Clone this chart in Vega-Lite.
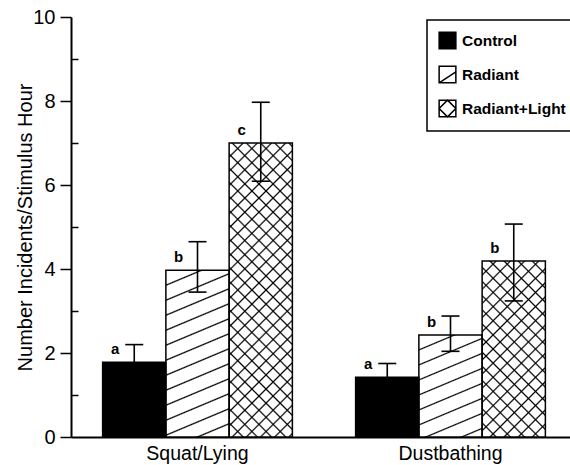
{
  "$schema": "https://vega.github.io/schema/vega-lite/v6.json",
  "width": 499,
  "height": 420,
  "autosize": {"type": "none"},
  "padding": {"left": 71, "top": 17, "right": 0, "bottom": 28},
  "background": "white",
  "config": {
    "font": "Liberation Sans",
    "view": {"stroke": null},
    "axis": {"grid": false, "domainColor": "black", "tickColor": "black", "labelColor": "black", "titleColor": "black"}
  },
  "data": {
    "values": [
      {"behavior": "Squat/Lying", "treatment": "Control", "mean": 1.78, "lo": 1.36, "hi": 2.2, "sig": "a"},
      {"behavior": "Squat/Lying", "treatment": "Radiant", "mean": 3.97, "lo": 3.45, "hi": 4.65, "sig": "b"},
      {"behavior": "Squat/Lying", "treatment": "Radiant+Light", "mean": 7.0, "lo": 6.09, "hi": 7.97, "sig": "c"},
      {"behavior": "Dustbathing", "treatment": "Control", "mean": 1.42, "lo": 1.09, "hi": 1.75, "sig": "a"},
      {"behavior": "Dustbathing", "treatment": "Radiant", "mean": 2.43, "lo": 2.04, "hi": 2.88, "sig": "b"},
      {"behavior": "Dustbathing", "treatment": "Radiant+Light", "mean": 4.19, "lo": 3.24, "hi": 5.07, "sig": "b"}
    ]
  },
  "encoding": {
    "x": {"field": "behavior", "type": "nominal", "sort": ["Squat/Lying", "Dustbathing"],
      "scale": {"range": [0, 506], "paddingInner": 0, "paddingOuter": 0},
      "axis": {"title": null, "labelAngle": 0, "ticks": false, "tickSize": 0, "labelPadding": 7, "labelFontSize": 19.5, "domainWidth": 2}},
    "xOffset": {"field": "treatment", "type": "nominal",
      "scale": {"domain": ["Control", "Radiant", "Radiant+Light"], "paddingInner": 0, "paddingOuter": 0.5}}
  },
  "layer": [
    {
      "mark": {"type": "bar"},
      "encoding": {
        "y": {"field": "mean", "type": "quantitative", "scale": {"domain": [0, 10], "nice": false},
          "axis": {"orient": "left", "values": [0, 0.5, 1, 1.5, 2, 2.5, 3, 3.5, 4, 4.5, 5, 5.5, 6, 6.5, 7, 7.5, 8, 8.5, 9, 9.5, 10],
            "labelExpr": "datum.value % 2 === 0 ? datum.label : ''",
            "tickSize": {"condition": {"test": "datum.value % 2 === 0", "value": 11}, "value": -7},
            "tickWidth": 1.5, "domainWidth": 2, "labelFontSize": 20, "labelPadding": 5,
            "title": "Number Incidents/Stimulus Hour", "titleFontSize": 20, "titleFontWeight": "normal", "titleX": -36, "titleY": 210}},
        "fill": {"field": "treatment", "type": "nominal",
          "scale": {"domain": ["Control", "Radiant", "Radiant+Light"], "range": ["black", "white", "white"]},
          "legend": {"orient": "none", "legendX": 356, "legendY": 3, "title": null, "padding": 11, "strokeColor": "black", "fillColor": "white",
            "symbolSize": 280, "symbolType": "square", "rowPadding": 11, "labelOffset": 5, "labelFontSize": 15.5, "labelFontWeight": "bold", "labelColor": "black",
            "symbolStrokeColor": "black", "symbolStrokeWidth": 1.5,
            "encode": {
              "legend": {"update": {"strokeWidth": {"value": 1.5}}},
              "symbols": {"update": {
                "shape": {"signal": "datum.value === 'Radiant' ? 'M-1,-1H1V1H-1Z M-1,1L1,-0.3' : (datum.value === 'Radiant+Light' ? 'M-1,-1H1V1H-1Z M0,-1L1,0L0,1L-1,0Z' : 'square')"},
                "stroke": {"value": "black"},
                "strokeWidth": {"value": 1.5}
              }}
            }}
        }
      }
    },
    {
      "transform": [{"filter": "datum.behavior === 'Squat/Lying' && datum.treatment === 'Radiant'"}],
      "mark": {"type": "bar", "fill": {"gradient": "linear", "x1": 0, "y1": 0, "x2": 0.1801, "y2": 1.1306, "stops": [
        {"offset": 0.0706, "color": "rgba(0,0,0,0)"}, {"offset": 0.0776, "color": "black"}, {"offset": 0.0846, "color": "rgba(0,0,0,0)"},
        {"offset": 0.1482, "color": "rgba(0,0,0,0)"}, {"offset": 0.1552, "color": "black"}, {"offset": 0.1622, "color": "rgba(0,0,0,0)"},
        {"offset": 0.2258, "color": "rgba(0,0,0,0)"}, {"offset": 0.2328, "color": "black"}, {"offset": 0.2398, "color": "rgba(0,0,0,0)"},
        {"offset": 0.3034, "color": "rgba(0,0,0,0)"}, {"offset": 0.3104, "color": "black"}, {"offset": 0.3174, "color": "rgba(0,0,0,0)"},
        {"offset": 0.381, "color": "rgba(0,0,0,0)"}, {"offset": 0.388, "color": "black"}, {"offset": 0.395, "color": "rgba(0,0,0,0)"},
        {"offset": 0.4586, "color": "rgba(0,0,0,0)"}, {"offset": 0.4656, "color": "black"}, {"offset": 0.4726, "color": "rgba(0,0,0,0)"},
        {"offset": 0.5362, "color": "rgba(0,0,0,0)"}, {"offset": 0.5432, "color": "black"}, {"offset": 0.5502, "color": "rgba(0,0,0,0)"},
        {"offset": 0.6138, "color": "rgba(0,0,0,0)"}, {"offset": 0.6208, "color": "black"}, {"offset": 0.6278, "color": "rgba(0,0,0,0)"},
        {"offset": 0.6914, "color": "rgba(0,0,0,0)"}, {"offset": 0.6984, "color": "black"}, {"offset": 0.7054, "color": "rgba(0,0,0,0)"},
        {"offset": 0.769, "color": "rgba(0,0,0,0)"}, {"offset": 0.776, "color": "black"}, {"offset": 0.783, "color": "rgba(0,0,0,0)"},
        {"offset": 0.8466, "color": "rgba(0,0,0,0)"}, {"offset": 0.8536, "color": "black"}, {"offset": 0.8606, "color": "rgba(0,0,0,0)"},
        {"offset": 0.9242, "color": "rgba(0,0,0,0)"}, {"offset": 0.9312, "color": "black"}, {"offset": 0.9382, "color": "rgba(0,0,0,0)"}
      ]}},
      "encoding": {"y": {"field": "mean", "type": "quantitative"}}
    },
    {
      "transform": [{"filter": "datum.behavior === 'Dustbathing' && datum.treatment === 'Radiant'"}],
      "mark": {"type": "bar", "fill": {"gradient": "linear", "x1": 0, "y1": 0, "x2": 0.3072, "y2": 1.1803, "stops": [
        {"offset": 0.1066, "color": "rgba(0,0,0,0)"}, {"offset": 0.1166, "color": "black"}, {"offset": 0.1266, "color": "rgba(0,0,0,0)"},
        {"offset": 0.2232, "color": "rgba(0,0,0,0)"}, {"offset": 0.2332, "color": "black"}, {"offset": 0.2432, "color": "rgba(0,0,0,0)"},
        {"offset": 0.3399, "color": "rgba(0,0,0,0)"}, {"offset": 0.3499, "color": "black"}, {"offset": 0.3599, "color": "rgba(0,0,0,0)"},
        {"offset": 0.4565, "color": "rgba(0,0,0,0)"}, {"offset": 0.4665, "color": "black"}, {"offset": 0.4765, "color": "rgba(0,0,0,0)"},
        {"offset": 0.5731, "color": "rgba(0,0,0,0)"}, {"offset": 0.5831, "color": "black"}, {"offset": 0.5931, "color": "rgba(0,0,0,0)"},
        {"offset": 0.6897, "color": "rgba(0,0,0,0)"}, {"offset": 0.6997, "color": "black"}, {"offset": 0.7097, "color": "rgba(0,0,0,0)"},
        {"offset": 0.8063, "color": "rgba(0,0,0,0)"}, {"offset": 0.8163, "color": "black"}, {"offset": 0.8263, "color": "rgba(0,0,0,0)"},
        {"offset": 0.923, "color": "rgba(0,0,0,0)"}, {"offset": 0.933, "color": "black"}, {"offset": 0.943, "color": "rgba(0,0,0,0)"}
      ]}},
      "encoding": {"y": {"field": "mean", "type": "quantitative"}}
    },
    {
      "transform": [{"filter": "datum.behavior === 'Squat/Lying' && datum.treatment === 'Radiant+Light'"}],
      "mark": {"type": "bar", "fill": {"gradient": "linear", "x1": 0, "y1": 0, "x2": 0.2499, "y2": 1.1614, "stops": [
        {"offset": 0.0348, "color": "rgba(0,0,0,0)"}, {"offset": 0.0396, "color": "black"}, {"offset": 0.0444, "color": "rgba(0,0,0,0)"},
        {"offset": 0.0744, "color": "rgba(0,0,0,0)"}, {"offset": 0.0792, "color": "black"}, {"offset": 0.084, "color": "rgba(0,0,0,0)"},
        {"offset": 0.114, "color": "rgba(0,0,0,0)"}, {"offset": 0.1188, "color": "black"}, {"offset": 0.1236, "color": "rgba(0,0,0,0)"},
        {"offset": 0.1536, "color": "rgba(0,0,0,0)"}, {"offset": 0.1584, "color": "black"}, {"offset": 0.1632, "color": "rgba(0,0,0,0)"},
        {"offset": 0.1932, "color": "rgba(0,0,0,0)"}, {"offset": 0.198, "color": "black"}, {"offset": 0.2028, "color": "rgba(0,0,0,0)"},
        {"offset": 0.2328, "color": "rgba(0,0,0,0)"}, {"offset": 0.2376, "color": "black"}, {"offset": 0.2424, "color": "rgba(0,0,0,0)"},
        {"offset": 0.2724, "color": "rgba(0,0,0,0)"}, {"offset": 0.2772, "color": "black"}, {"offset": 0.282, "color": "rgba(0,0,0,0)"},
        {"offset": 0.312, "color": "rgba(0,0,0,0)"}, {"offset": 0.3168, "color": "black"}, {"offset": 0.3216, "color": "rgba(0,0,0,0)"},
        {"offset": 0.3516, "color": "rgba(0,0,0,0)"}, {"offset": 0.3564, "color": "black"}, {"offset": 0.3612, "color": "rgba(0,0,0,0)"},
        {"offset": 0.3912, "color": "rgba(0,0,0,0)"}, {"offset": 0.396, "color": "black"}, {"offset": 0.4008, "color": "rgba(0,0,0,0)"},
        {"offset": 0.4308, "color": "rgba(0,0,0,0)"}, {"offset": 0.4356, "color": "black"}, {"offset": 0.4404, "color": "rgba(0,0,0,0)"},
        {"offset": 0.4704, "color": "rgba(0,0,0,0)"}, {"offset": 0.4752, "color": "black"}, {"offset": 0.48, "color": "rgba(0,0,0,0)"},
        {"offset": 0.51, "color": "rgba(0,0,0,0)"}, {"offset": 0.5148, "color": "black"}, {"offset": 0.5196, "color": "rgba(0,0,0,0)"},
        {"offset": 0.5496, "color": "rgba(0,0,0,0)"}, {"offset": 0.5544, "color": "black"}, {"offset": 0.5592, "color": "rgba(0,0,0,0)"},
        {"offset": 0.5892, "color": "rgba(0,0,0,0)"}, {"offset": 0.594, "color": "black"}, {"offset": 0.5988, "color": "rgba(0,0,0,0)"},
        {"offset": 0.6288, "color": "rgba(0,0,0,0)"}, {"offset": 0.6336, "color": "black"}, {"offset": 0.6384, "color": "rgba(0,0,0,0)"},
        {"offset": 0.6684, "color": "rgba(0,0,0,0)"}, {"offset": 0.6732, "color": "black"}, {"offset": 0.678, "color": "rgba(0,0,0,0)"},
        {"offset": 0.708, "color": "rgba(0,0,0,0)"}, {"offset": 0.7128, "color": "black"}, {"offset": 0.7176, "color": "rgba(0,0,0,0)"},
        {"offset": 0.7476, "color": "rgba(0,0,0,0)"}, {"offset": 0.7524, "color": "black"}, {"offset": 0.7572, "color": "rgba(0,0,0,0)"},
        {"offset": 0.7872, "color": "rgba(0,0,0,0)"}, {"offset": 0.792, "color": "black"}, {"offset": 0.7968, "color": "rgba(0,0,0,0)"},
        {"offset": 0.8268, "color": "rgba(0,0,0,0)"}, {"offset": 0.8316, "color": "black"}, {"offset": 0.8364, "color": "rgba(0,0,0,0)"},
        {"offset": 0.8664, "color": "rgba(0,0,0,0)"}, {"offset": 0.8712, "color": "black"}, {"offset": 0.876, "color": "rgba(0,0,0,0)"},
        {"offset": 0.906, "color": "rgba(0,0,0,0)"}, {"offset": 0.9108, "color": "black"}, {"offset": 0.9156, "color": "rgba(0,0,0,0)"},
        {"offset": 0.9456, "color": "rgba(0,0,0,0)"}, {"offset": 0.9504, "color": "black"}, {"offset": 0.9552, "color": "rgba(0,0,0,0)"},
        {"offset": 0.9852, "color": "rgba(0,0,0,0)"}, {"offset": 0.99, "color": "black"}, {"offset": 0.9948, "color": "rgba(0,0,0,0)"}
      ]}},
      "encoding": {"y": {"field": "mean", "type": "quantitative"}}
    },
    {
      "transform": [{"filter": "datum.behavior === 'Squat/Lying' && datum.treatment === 'Radiant+Light'"}],
      "mark": {"type": "bar", "fill": {"gradient": "linear", "x1": 0, "y1": 1, "x2": 0.2499, "y2": -0.1614, "stops": [
        {"offset": 0.0348, "color": "rgba(0,0,0,0)"}, {"offset": 0.0396, "color": "black"}, {"offset": 0.0444, "color": "rgba(0,0,0,0)"},
        {"offset": 0.0744, "color": "rgba(0,0,0,0)"}, {"offset": 0.0792, "color": "black"}, {"offset": 0.084, "color": "rgba(0,0,0,0)"},
        {"offset": 0.114, "color": "rgba(0,0,0,0)"}, {"offset": 0.1188, "color": "black"}, {"offset": 0.1236, "color": "rgba(0,0,0,0)"},
        {"offset": 0.1536, "color": "rgba(0,0,0,0)"}, {"offset": 0.1584, "color": "black"}, {"offset": 0.1632, "color": "rgba(0,0,0,0)"},
        {"offset": 0.1932, "color": "rgba(0,0,0,0)"}, {"offset": 0.198, "color": "black"}, {"offset": 0.2028, "color": "rgba(0,0,0,0)"},
        {"offset": 0.2328, "color": "rgba(0,0,0,0)"}, {"offset": 0.2376, "color": "black"}, {"offset": 0.2424, "color": "rgba(0,0,0,0)"},
        {"offset": 0.2724, "color": "rgba(0,0,0,0)"}, {"offset": 0.2772, "color": "black"}, {"offset": 0.282, "color": "rgba(0,0,0,0)"},
        {"offset": 0.312, "color": "rgba(0,0,0,0)"}, {"offset": 0.3168, "color": "black"}, {"offset": 0.3216, "color": "rgba(0,0,0,0)"},
        {"offset": 0.3516, "color": "rgba(0,0,0,0)"}, {"offset": 0.3564, "color": "black"}, {"offset": 0.3612, "color": "rgba(0,0,0,0)"},
        {"offset": 0.3912, "color": "rgba(0,0,0,0)"}, {"offset": 0.396, "color": "black"}, {"offset": 0.4008, "color": "rgba(0,0,0,0)"},
        {"offset": 0.4308, "color": "rgba(0,0,0,0)"}, {"offset": 0.4356, "color": "black"}, {"offset": 0.4404, "color": "rgba(0,0,0,0)"},
        {"offset": 0.4704, "color": "rgba(0,0,0,0)"}, {"offset": 0.4752, "color": "black"}, {"offset": 0.48, "color": "rgba(0,0,0,0)"},
        {"offset": 0.51, "color": "rgba(0,0,0,0)"}, {"offset": 0.5148, "color": "black"}, {"offset": 0.5196, "color": "rgba(0,0,0,0)"},
        {"offset": 0.5496, "color": "rgba(0,0,0,0)"}, {"offset": 0.5544, "color": "black"}, {"offset": 0.5592, "color": "rgba(0,0,0,0)"},
        {"offset": 0.5892, "color": "rgba(0,0,0,0)"}, {"offset": 0.594, "color": "black"}, {"offset": 0.5988, "color": "rgba(0,0,0,0)"},
        {"offset": 0.6288, "color": "rgba(0,0,0,0)"}, {"offset": 0.6336, "color": "black"}, {"offset": 0.6384, "color": "rgba(0,0,0,0)"},
        {"offset": 0.6684, "color": "rgba(0,0,0,0)"}, {"offset": 0.6732, "color": "black"}, {"offset": 0.678, "color": "rgba(0,0,0,0)"},
        {"offset": 0.708, "color": "rgba(0,0,0,0)"}, {"offset": 0.7128, "color": "black"}, {"offset": 0.7176, "color": "rgba(0,0,0,0)"},
        {"offset": 0.7476, "color": "rgba(0,0,0,0)"}, {"offset": 0.7524, "color": "black"}, {"offset": 0.7572, "color": "rgba(0,0,0,0)"},
        {"offset": 0.7872, "color": "rgba(0,0,0,0)"}, {"offset": 0.792, "color": "black"}, {"offset": 0.7968, "color": "rgba(0,0,0,0)"},
        {"offset": 0.8268, "color": "rgba(0,0,0,0)"}, {"offset": 0.8316, "color": "black"}, {"offset": 0.8364, "color": "rgba(0,0,0,0)"},
        {"offset": 0.8664, "color": "rgba(0,0,0,0)"}, {"offset": 0.8712, "color": "black"}, {"offset": 0.876, "color": "rgba(0,0,0,0)"},
        {"offset": 0.906, "color": "rgba(0,0,0,0)"}, {"offset": 0.9108, "color": "black"}, {"offset": 0.9156, "color": "rgba(0,0,0,0)"},
        {"offset": 0.9456, "color": "rgba(0,0,0,0)"}, {"offset": 0.9504, "color": "black"}, {"offset": 0.9552, "color": "rgba(0,0,0,0)"},
        {"offset": 0.9852, "color": "rgba(0,0,0,0)"}, {"offset": 0.99, "color": "black"}, {"offset": 0.9948, "color": "rgba(0,0,0,0)"}
      ]}},
      "encoding": {"y": {"field": "mean", "type": "quantitative"}}
    },
    {
      "transform": [{"filter": "datum.behavior === 'Dustbathing' && datum.treatment === 'Radiant+Light'"}],
      "mark": {"type": "bar", "fill": {"gradient": "linear", "x1": 0, "y1": 0, "x2": 0.4327, "y2": 1.2039, "stops": [
        {"offset": 0.052, "color": "rgba(0,0,0,0)"}, {"offset": 0.0591, "color": "black"}, {"offset": 0.0662, "color": "rgba(0,0,0,0)"},
        {"offset": 0.1111, "color": "rgba(0,0,0,0)"}, {"offset": 0.1182, "color": "black"}, {"offset": 0.1253, "color": "rgba(0,0,0,0)"},
        {"offset": 0.1702, "color": "rgba(0,0,0,0)"}, {"offset": 0.1773, "color": "black"}, {"offset": 0.1844, "color": "rgba(0,0,0,0)"},
        {"offset": 0.2293, "color": "rgba(0,0,0,0)"}, {"offset": 0.2364, "color": "black"}, {"offset": 0.2435, "color": "rgba(0,0,0,0)"},
        {"offset": 0.2884, "color": "rgba(0,0,0,0)"}, {"offset": 0.2955, "color": "black"}, {"offset": 0.3026, "color": "rgba(0,0,0,0)"},
        {"offset": 0.3475, "color": "rgba(0,0,0,0)"}, {"offset": 0.3546, "color": "black"}, {"offset": 0.3617, "color": "rgba(0,0,0,0)"},
        {"offset": 0.4066, "color": "rgba(0,0,0,0)"}, {"offset": 0.4137, "color": "black"}, {"offset": 0.4208, "color": "rgba(0,0,0,0)"},
        {"offset": 0.4657, "color": "rgba(0,0,0,0)"}, {"offset": 0.4728, "color": "black"}, {"offset": 0.4799, "color": "rgba(0,0,0,0)"},
        {"offset": 0.5248, "color": "rgba(0,0,0,0)"}, {"offset": 0.5319, "color": "black"}, {"offset": 0.539, "color": "rgba(0,0,0,0)"},
        {"offset": 0.5839, "color": "rgba(0,0,0,0)"}, {"offset": 0.591, "color": "black"}, {"offset": 0.5981, "color": "rgba(0,0,0,0)"},
        {"offset": 0.643, "color": "rgba(0,0,0,0)"}, {"offset": 0.6501, "color": "black"}, {"offset": 0.6572, "color": "rgba(0,0,0,0)"},
        {"offset": 0.7021, "color": "rgba(0,0,0,0)"}, {"offset": 0.7092, "color": "black"}, {"offset": 0.7163, "color": "rgba(0,0,0,0)"},
        {"offset": 0.7612, "color": "rgba(0,0,0,0)"}, {"offset": 0.7683, "color": "black"}, {"offset": 0.7754, "color": "rgba(0,0,0,0)"},
        {"offset": 0.8203, "color": "rgba(0,0,0,0)"}, {"offset": 0.8274, "color": "black"}, {"offset": 0.8345, "color": "rgba(0,0,0,0)"},
        {"offset": 0.8794, "color": "rgba(0,0,0,0)"}, {"offset": 0.8865, "color": "black"}, {"offset": 0.8936, "color": "rgba(0,0,0,0)"},
        {"offset": 0.9385, "color": "rgba(0,0,0,0)"}, {"offset": 0.9456, "color": "black"}, {"offset": 0.9527, "color": "rgba(0,0,0,0)"}
      ]}},
      "encoding": {"y": {"field": "mean", "type": "quantitative"}}
    },
    {
      "transform": [{"filter": "datum.behavior === 'Dustbathing' && datum.treatment === 'Radiant+Light'"}],
      "mark": {"type": "bar", "fill": {"gradient": "linear", "x1": 0, "y1": 1, "x2": 0.4327, "y2": -0.2039, "stops": [
        {"offset": 0.052, "color": "rgba(0,0,0,0)"}, {"offset": 0.0591, "color": "black"}, {"offset": 0.0662, "color": "rgba(0,0,0,0)"},
        {"offset": 0.1111, "color": "rgba(0,0,0,0)"}, {"offset": 0.1182, "color": "black"}, {"offset": 0.1253, "color": "rgba(0,0,0,0)"},
        {"offset": 0.1702, "color": "rgba(0,0,0,0)"}, {"offset": 0.1773, "color": "black"}, {"offset": 0.1844, "color": "rgba(0,0,0,0)"},
        {"offset": 0.2293, "color": "rgba(0,0,0,0)"}, {"offset": 0.2364, "color": "black"}, {"offset": 0.2435, "color": "rgba(0,0,0,0)"},
        {"offset": 0.2884, "color": "rgba(0,0,0,0)"}, {"offset": 0.2955, "color": "black"}, {"offset": 0.3026, "color": "rgba(0,0,0,0)"},
        {"offset": 0.3475, "color": "rgba(0,0,0,0)"}, {"offset": 0.3546, "color": "black"}, {"offset": 0.3617, "color": "rgba(0,0,0,0)"},
        {"offset": 0.4066, "color": "rgba(0,0,0,0)"}, {"offset": 0.4137, "color": "black"}, {"offset": 0.4208, "color": "rgba(0,0,0,0)"},
        {"offset": 0.4657, "color": "rgba(0,0,0,0)"}, {"offset": 0.4728, "color": "black"}, {"offset": 0.4799, "color": "rgba(0,0,0,0)"},
        {"offset": 0.5248, "color": "rgba(0,0,0,0)"}, {"offset": 0.5319, "color": "black"}, {"offset": 0.539, "color": "rgba(0,0,0,0)"},
        {"offset": 0.5839, "color": "rgba(0,0,0,0)"}, {"offset": 0.591, "color": "black"}, {"offset": 0.5981, "color": "rgba(0,0,0,0)"},
        {"offset": 0.643, "color": "rgba(0,0,0,0)"}, {"offset": 0.6501, "color": "black"}, {"offset": 0.6572, "color": "rgba(0,0,0,0)"},
        {"offset": 0.7021, "color": "rgba(0,0,0,0)"}, {"offset": 0.7092, "color": "black"}, {"offset": 0.7163, "color": "rgba(0,0,0,0)"},
        {"offset": 0.7612, "color": "rgba(0,0,0,0)"}, {"offset": 0.7683, "color": "black"}, {"offset": 0.7754, "color": "rgba(0,0,0,0)"},
        {"offset": 0.8203, "color": "rgba(0,0,0,0)"}, {"offset": 0.8274, "color": "black"}, {"offset": 0.8345, "color": "rgba(0,0,0,0)"},
        {"offset": 0.8794, "color": "rgba(0,0,0,0)"}, {"offset": 0.8865, "color": "black"}, {"offset": 0.8936, "color": "rgba(0,0,0,0)"},
        {"offset": 0.9385, "color": "rgba(0,0,0,0)"}, {"offset": 0.9456, "color": "black"}, {"offset": 0.9527, "color": "rgba(0,0,0,0)"}
      ]}},
      "encoding": {"y": {"field": "mean", "type": "quantitative"}}
    },
    {
      "mark": {"type": "bar", "fillOpacity": 0, "stroke": "black", "strokeWidth": 1.5},
      "encoding": {"y": {"field": "mean", "type": "quantitative"}}
    },
    {
      "mark": {"type": "rule", "color": "black", "strokeWidth": 1.6},
      "encoding": {
        "y": {"field": "lo", "type": "quantitative"},
        "y2": {"field": "hi"}
      }
    },
    {
      "mark": {"type": "tick", "orient": "horizontal", "size": 18, "thickness": 1.6, "color": "black", "opacity": 1},
      "encoding": {"y": {"field": "hi", "type": "quantitative"}}
    },
    {
      "mark": {"type": "tick", "orient": "horizontal", "size": 18, "thickness": 1.6, "color": "black", "opacity": 1},
      "encoding": {"y": {"field": "lo", "type": "quantitative"}}
    },
    {
      "mark": {"type": "text", "dx": -19, "dy": -13, "baseline": "middle", "align": "center", "fontSize": 15, "fontWeight": "bold", "color": "black"},
      "encoding": {
        "y": {"field": "mean", "type": "quantitative"},
        "text": {"field": "sig"}
      }
    }
  ]
}
